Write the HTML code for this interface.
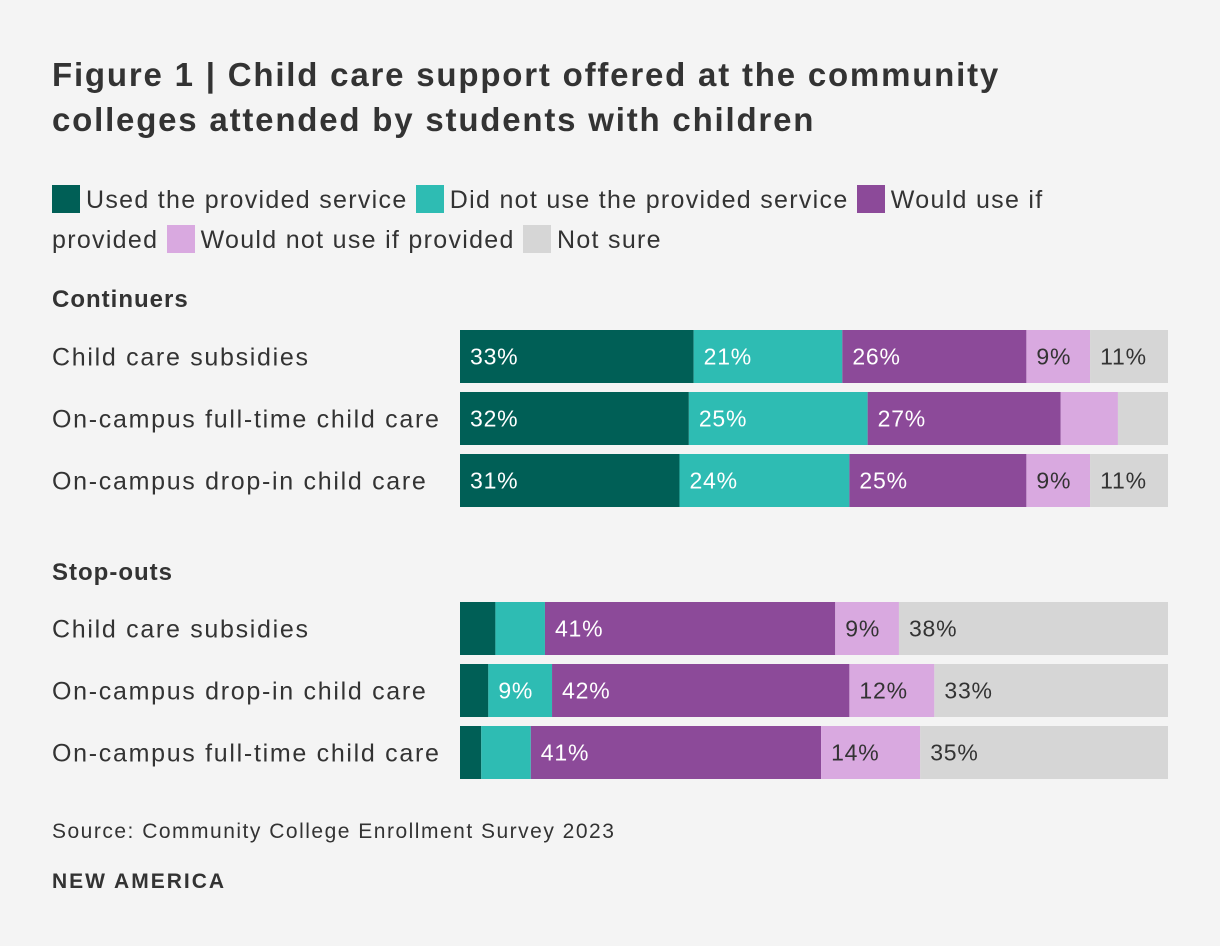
<!DOCTYPE html>
<html><head><meta charset="utf-8"><style>
body{margin:0;background:#f4f4f4;font-family:"Liberation Sans",sans-serif;color:#333;}
#wrap{position:relative;width:1220px;height:946px;overflow:hidden;background:#f4f4f4;}
h1{position:absolute;left:52px;top:52px;margin:0;font-size:33px;line-height:45px;font-weight:bold;color:#333;width:1000px;letter-spacing:1.8px;}
.leg{position:absolute;left:52px;top:180px;font-size:25px;line-height:40px;width:1060px;color:#333;letter-spacing:1.3px;}
.sw{display:inline-block;width:28px;height:28px;vertical-align:-5px;margin-right:6px;}
.grp{position:absolute;left:52px;font-size:24px;font-weight:bold;letter-spacing:1px;}
.src{position:absolute;left:52px;top:820px;font-size:21px;letter-spacing:1.5px;}
.brand{position:absolute;left:52px;top:870px;font-size:21px;font-weight:bold;letter-spacing:2px;}
</style></head><body>
<div id="wrap">
<h1>Figure 1 | Child care support offered at the community colleges attended by students with children</h1>
<div class="leg">
<span><span class="sw" style="background:#005f56"></span>Used the provided service</span>
<span><span class="sw" style="background:#2ebcb3"></span>Did not use the provided service</span>
<span><span class="sw" style="background:#8c4a99"></span>Would use if provided</span>
<span><span class="sw" style="background:#d9a9e0"></span>Would not use if provided</span>
<span><span class="sw" style="background:#d6d6d6"></span>Not sure</span>
</div>
<div class="grp" style="top:286px">Continuers</div>
<div class="grp" style="top:559px">Stop-outs</div>
<svg id="svg" width="1220" height="946" style="position:absolute;left:0;top:0"></svg>
<div class="src">Source: Community College Enrollment Survey 2023</div>
<div class="brand">NEW AMERICA</div>
</div>
<script>
const categories=["Child care subsidies","On-campus full-time child care","On-campus drop-in child care","Child care subsidies","On-campus drop-in child care","On-campus full-time child care"];
const usedVals=[33,32,31,5,4,3];
const didNotUseVals=[21,25,24,7,9,7];
const wouldUseVals=[26,27,25,41,42,41];
const wouldNotUseVals=[9,8,9,9,12,14];
const notSureVals=[11,7,11,38,33,35];
const series=[usedVals,didNotUseVals,wouldUseVals,wouldNotUseVals,notSureVals];
const colors=["#005f56","#2ebcb3","#8c4a99","#d9a9e0","#d6d6d6"];
const textCol=["#fff","#fff","#fff","#333","#333"];
const segNames=["used","did-not-use","would-use","would-not-use","not-sure"];
const rowTops=[330,392,454,602,664,726];
const X0=460,W=708,BH=53;
const ns="http://www.w3.org/2000/svg";
const svg=document.getElementById('svg');
function xs(v,total){return v/total*W;}
categories.forEach((c,i)=>{
  const t=document.createElementNS(ns,'text');
  
  
  t.setAttribute('x',52);t.setAttribute('y',rowTops[i]+BH/2+9);
  t.setAttribute('font-size','25');t.setAttribute('fill','#333');
  t.setAttribute('letter-spacing','1.7');
  t.textContent=c;svg.appendChild(t);
  const total=series.reduce((a,s)=>a+s[i],0);
  let x=X0;
  series.forEach((s,k)=>{
    const w=xs(s[i],total);
    const r=document.createElementNS(ns,'rect');
    
    
    r.setAttribute('x',x);r.setAttribute('y',rowTops[i]);
    r.setAttribute('width',w);r.setAttribute('height',BH);
    r.setAttribute('fill',colors[k]);svg.appendChild(r);
    if(s[i]>=9){
      const l=document.createElementNS(ns,'text');
      
      
      l.setAttribute('x',x+10);l.setAttribute('y',rowTops[i]+BH/2+8);
      l.setAttribute('font-size','23');l.setAttribute('fill',textCol[k]);
      l.setAttribute('letter-spacing','0.8');
      l.textContent=s[i]+'%';svg.appendChild(l);
    }
    x+=w;
  });
});
</script>
</body></html>
